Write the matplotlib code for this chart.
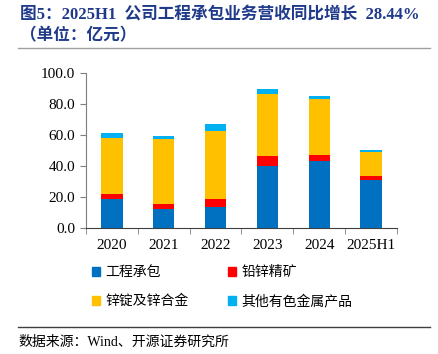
import matplotlib
matplotlib.use("Agg")
import matplotlib.pyplot as plt
import numpy as np
from matplotlib.lines import Line2D

plt.rcParams["font.family"] = ["Liberation Serif", "Noto Sans CJK SC"]

years = ["2020", "2021", "2022", "2023", "2024", "2025H1"]
engineering = [18.4, 12.1, 13.6, 39.7, 43.0, 30.7]
lead_zinc_ore = [3.4, 3.2, 5.0, 6.7, 4.1, 2.8]
zinc_ingot = [36.3, 42.2, 44.0, 40.2, 36.1, 15.5]
other_metals = [3.2, 1.9, 4.6, 3.2, 2.1, 1.3]

series_names = ["工程承包", "铅锌精矿", "锌锭及锌合金", "其他有色金属产品"]
colors = ["#0070C0", "#FF0000", "#FFC000", "#00B0F0"]

fig = plt.figure(figsize=(4.39, 3.54), dpi=100)
ax = fig.add_axes([0.196, 0.356, 0.708, 0.438])

x = np.arange(len(years))
bottom = np.zeros(len(years))
for vals, c in zip([engineering, lead_zinc_ore, zinc_ingot, other_metals], colors):
    ax.bar(x, vals, width=0.41, bottom=bottom, color=c, edgecolor="none")
    bottom += np.array(vals)

ax.set_ylim(0, 100)
ax.set_xlim(-0.5, len(years) - 0.5)
ax.set_yticks(np.arange(0, 101, 20))
ax.set_yticklabels([f"{v:.1f}" for v in np.arange(0, 101, 20)], fontsize=11)
ax.set_xticks(x)
ax.set_xticklabels(years, fontsize=11)
ax.tick_params(axis="x", length=0, pad=8)
ax.set_xticks(np.arange(-0.5, len(years), 1), minor=True)
ax.tick_params(axis="x", which="minor", length=4, color="#7f7f7f")
ax.tick_params(axis="y", length=4, direction="out", color="#7f7f7f", pad=4)
for s in ["top", "right"]:
    ax.spines[s].set_visible(False)
ax.spines["left"].set_color("#7f7f7f")
ax.spines["bottom"].set_color("#404040")

# title
title_color = "#1F3A8A"
fig.text(0.045, 0.960, "图5：2025H1  公司工程承包业务营收同比增长  28.44%",
         fontsize=12, fontweight="bold", color=title_color, va="center", ha="left")
fig.text(0.045, 0.898, "（单位：亿元）", fontsize=12, fontweight="bold",
         color=title_color, va="center", ha="left")
fig.add_artist(Line2D([0.041, 0.98], [0.864, 0.864], color="#a0a0a0", lw=1))

# legend
handles = [plt.Rectangle((0, 0), 1, 1, color=c) for c in colors]
order = [0, 2, 1, 3]
fig.legend([handles[i] for i in order], [series_names[i] for i in order],
           ncol=2, loc="center", bbox_to_anchor=(0.506, 0.188), frameon=False,
           fontsize=10, handlelength=0.6, handleheight=0.6, handletextpad=0.4,
           columnspacing=2.8, labelspacing=1.1)

# source
fig.add_artist(Line2D([0.041, 0.98], [0.076, 0.076], color="#404040", lw=1))
fig.text(0.043, 0.034, "数据来源：Wind、开源证券研究所", fontsize=10, va="center", ha="left")

fig.savefig("out.png", dpi=100)
